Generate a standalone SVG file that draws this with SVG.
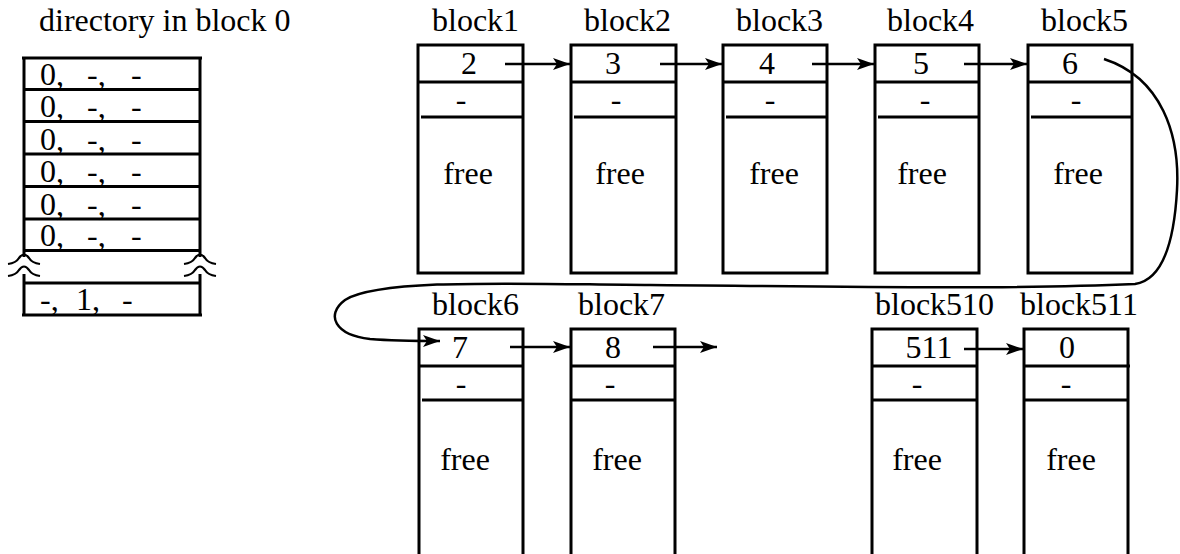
<svg xmlns="http://www.w3.org/2000/svg" width="1180" height="554" viewBox="0 0 1180 554">
  <style>
    text { font-family: "Liberation Serif", "Times New Roman", "DejaVu Serif", serif; font-size: 32px; fill: #000; }
    .mid { text-anchor: middle; }
    .box { fill: none; stroke: #000; stroke-width: 3; }
    .ln { stroke: #000; stroke-width: 3; fill: none; }
    .arr { stroke: #000; stroke-width: 2.5; fill: none; marker-end: url(#head); }
    .squig { stroke: #000; stroke-width: 2.2; fill: none; }
  </style>
  <defs>
    <marker id="head" markerUnits="userSpaceOnUse" markerWidth="18" markerHeight="12" refX="17" refY="6" orient="auto">
      <path d="M0,0 L17,6 L0,12 L4,6 z" fill="#000"/>
    </marker>
  </defs>
  <rect width="1180" height="554" fill="#fff"/>

  <!-- directory table stored in block 0 -->
  <g id="directory">
    <text x="39" y="31">directory in block 0</text>
    <line class="ln" x1="22" y1="58" x2="202" y2="58"/>
    <line class="ln" x1="24" y1="58" x2="24" y2="257"/>
    <line class="ln" x1="200" y1="58" x2="200" y2="257"/>
    <line class="ln" x1="24" y1="274" x2="24" y2="316"/>
    <line class="ln" x1="200" y1="274" x2="200" y2="316"/>
    <line class="ln" x1="24" y1="89.5" x2="200" y2="89.5"/>
    <line class="ln" x1="24" y1="121.5" x2="200" y2="121.5"/>
    <line class="ln" x1="24" y1="154" x2="200" y2="154"/>
    <line class="ln" x1="24" y1="186.5" x2="200" y2="186.5"/>
    <line class="ln" x1="24" y1="219" x2="200" y2="219"/>
    <line class="ln" x1="24" y1="250.5" x2="200" y2="250.5"/>
    <line class="ln" x1="24" y1="283" x2="200" y2="283"/>
    <line class="ln" x1="22" y1="315" x2="202" y2="315"/>
    <!-- break marks on both sides -->
    <path class="squig" d="M8,264 Q16,263 19,258 Q24,251 29,258 Q32,263 40,264"/>
    <path class="squig" d="M8,276 Q16,275 19,270 Q24,263 29,270 Q32,275 40,276"/>
    <path class="squig" d="M184,264 Q192,263 195,258 Q200,251 205,258 Q208,263 216,264"/>
    <path class="squig" d="M184,276 Q192,275 195,270 Q200,263 205,270 Q208,275 216,276"/>
    <text y="85"><tspan x="40">0,</tspan><tspan x="87">-,</tspan><tspan x="131">-</tspan></text>
    <text y="117"><tspan x="40">0,</tspan><tspan x="87">-,</tspan><tspan x="131">-</tspan></text>
    <text y="149.5"><tspan x="40">0,</tspan><tspan x="87">-,</tspan><tspan x="131">-</tspan></text>
    <text y="182"><tspan x="40">0,</tspan><tspan x="87">-,</tspan><tspan x="131">-</tspan></text>
    <text y="214.5"><tspan x="40">0,</tspan><tspan x="87">-,</tspan><tspan x="131">-</tspan></text>
    <text y="246"><tspan x="40">0,</tspan><tspan x="87">-,</tspan><tspan x="131">-</tspan></text>
    <text y="310"><tspan x="40">-,</tspan><tspan x="76">1,</tspan><tspan x="122">-</tspan></text>
  </g>

  <!-- top row of free blocks -->
  <g id="block1">
    <text x="432" y="31">block1</text>
    <rect class="box" x="418" y="45" width="105" height="228"/>
    <line class="ln" x1="418" y1="82" x2="523" y2="82"/>
    <line class="ln" x1="421" y1="117" x2="523" y2="117"/>
    <text class="mid" x="469" y="74">2</text>
    <text class="mid" x="461" y="110">-</text>
    <text class="mid" x="468" y="184">free</text>
  </g>
  <g id="block2">
    <text x="584" y="31">block2</text>
    <rect class="box" x="571" y="45" width="105" height="228"/>
    <line class="ln" x1="571" y1="82" x2="676" y2="82"/>
    <line class="ln" x1="574" y1="117" x2="676" y2="117"/>
    <text class="mid" x="613" y="74">3</text>
    <text class="mid" x="616" y="110">-</text>
    <text class="mid" x="620" y="184">free</text>
  </g>
  <g id="block3">
    <text x="736" y="31">block3</text>
    <rect class="box" x="723" y="45" width="104" height="228"/>
    <line class="ln" x1="723" y1="82" x2="827" y2="82"/>
    <line class="ln" x1="726" y1="117" x2="827" y2="117"/>
    <text class="mid" x="767" y="74">4</text>
    <text class="mid" x="770" y="110">-</text>
    <text class="mid" x="774" y="184">free</text>
  </g>
  <g id="block4">
    <text x="887" y="31">block4</text>
    <rect class="box" x="875" y="45" width="104" height="228"/>
    <line class="ln" x1="875" y1="82" x2="979" y2="82"/>
    <line class="ln" x1="878" y1="117" x2="979" y2="117"/>
    <text class="mid" x="921" y="74">5</text>
    <text class="mid" x="925" y="110">-</text>
    <text class="mid" x="922" y="184">free</text>
  </g>
  <g id="block5">
    <text x="1041" y="31">block5</text>
    <rect class="box" x="1028" y="45" width="104" height="228"/>
    <line class="ln" x1="1028" y1="82" x2="1132" y2="82"/>
    <line class="ln" x1="1031" y1="117" x2="1132" y2="117"/>
    <text class="mid" x="1070" y="74">6</text>
    <text class="mid" x="1076" y="110">-</text>
    <text class="mid" x="1078" y="184">free</text>
  </g>

  <!-- bottom row of free blocks (continuing past the edge) -->
  <g id="block6">
    <text x="432" y="315">block6</text>
    <path class="ln" d="M419,554 V329 H523 V554"/>
    <line class="ln" x1="419" y1="366" x2="523" y2="366"/>
    <line class="ln" x1="422" y1="400" x2="523" y2="400"/>
    <text class="mid" x="460" y="358">7</text>
    <text class="mid" x="461" y="394">-</text>
    <text class="mid" x="465" y="470">free</text>
  </g>
  <g id="block7">
    <text x="578" y="315">block7</text>
    <path class="ln" d="M571,554 V329 H675 V554"/>
    <line class="ln" x1="571" y1="366" x2="675" y2="366"/>
    <line class="ln" x1="571" y1="400" x2="675" y2="400"/>
    <text class="mid" x="613" y="358">8</text>
    <text class="mid" x="610" y="394">-</text>
    <text class="mid" x="617" y="470">free</text>
  </g>
  <g id="block510">
    <text x="875" y="315">block510</text>
    <path class="ln" d="M872,554 V329 H977 V554"/>
    <line class="ln" x1="872" y1="366" x2="977" y2="366"/>
    <line class="ln" x1="872" y1="400" x2="977" y2="400"/>
    <text class="mid" x="929" y="358">511</text>
    <text class="mid" x="917" y="394">-</text>
    <text class="mid" x="917" y="470">free</text>
  </g>
  <g id="block511">
    <text x="1020" y="315">block511</text>
    <path class="ln" d="M1024,554 V329 H1128 V554"/>
    <line class="ln" x1="1024" y1="366" x2="1130" y2="366"/>
    <line class="ln" x1="1024" y1="400" x2="1128" y2="400"/>
    <text class="mid" x="1067" y="358">0</text>
    <text class="mid" x="1066" y="394">-</text>
    <text class="mid" x="1071" y="470">free</text>
  </g>

  <!-- next-block pointers -->
  <g id="connectors">
    <line class="arr" x1="505" y1="64" x2="570" y2="64"/>
    <line class="arr" x1="660" y1="64" x2="722" y2="64"/>
    <line class="arr" x1="812" y1="64" x2="874" y2="64"/>
    <line class="arr" x1="964" y1="64" x2="1027" y2="64"/>
    <path class="arr" stroke-width="2.2" d="M1104,59 C1162,78 1180,135 1177,190 C1174,245 1162,280 1135,284 C1000,290 800,286 650,285 C520,284 380,278 345,300 C325,315 335,335 370,339 C395,341 420,341 440,341"/>
    <line class="arr" x1="510" y1="347" x2="570" y2="347"/>
    <line class="arr" x1="653" y1="347" x2="717" y2="347"/>
    <line class="arr" x1="964" y1="349" x2="1023" y2="349"/>
  </g>
</svg>
